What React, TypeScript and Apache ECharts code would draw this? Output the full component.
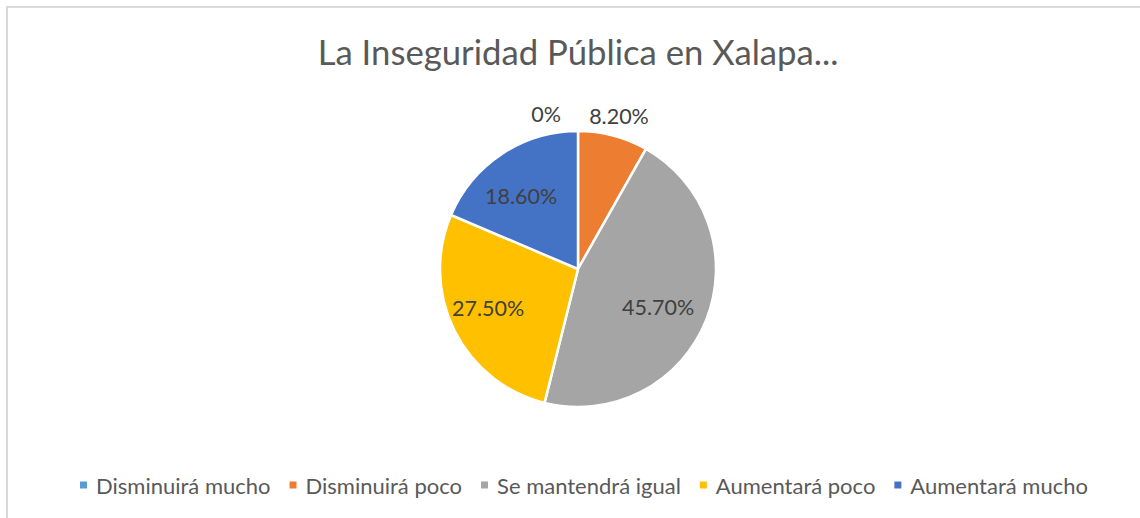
import React, { useEffect, useRef } from "react";
import * as echarts from "echarts";

const titleText = "La Inseguridad Pública en Xalapa...";
const categories = [
  "Disminuirá mucho",
  "Disminuirá poco",
  "Se mantendrá igual",
  "Aumentará poco",
  "Aumentará mucho",
];
const values = [0, 8.2, 45.7, 27.5, 18.6];
const colors = ["#5B9BD5", "#ED7D31", "#A5A5A5", "#FFC000", "#4472C4"];
const outsideLabelIdx = [0, 1];

const FONT = "Lato";

export default function App() {
  const ref = useRef<HTMLDivElement>(null);
  useEffect(() => {
    if (!ref.current) return;
    const chart = echarts.init(ref.current, undefined, { renderer: "svg" });
    const fmt = (p: any) => (p.value === 0 ? "0%" : p.value.toFixed(2) + "%");
    const mainData = categories.map((name, i) => ({
      name,
      value: values[i],
      itemStyle: { color: colors[i] },
      label: { show: outsideLabelIdx.includes(i) },
    }));
    const labelData = categories.map((name, i) => ({
      name,
      value: values[i],
      label: { show: !outsideLabelIdx.includes(i) },
    }));
    chart.setOption({
      animation: false,
      backgroundColor: "#ffffff",
      title: {
        text: titleText,
        left: 573,
        textAlign: "center",
        top: 29,
        textStyle: { fontFamily: FONT, fontSize: 34.7, fontWeight: "normal", color: "#595959" },
      },
      legend: {
        bottom: 17,
        left: 73,
        icon: "rect",
        itemWidth: 9,
        itemHeight: 9,
        itemGap: 17,
        data: categories,
        textStyle: { fontFamily: FONT, fontSize: 22, color: "#595959", padding: [0, 0, 0, 3] },
      },
      graphic: [
        {
          type: "rect",
          shape: { x: 7, y: 7, width: 1160, height: 540 },
          style: { fill: "none", stroke: "#d9d9d9", lineWidth: 2 },
          silent: true,
        },
      ],
      series: [
        {
          type: "pie",
          name: "main",
          center: [578, 269],
          radius: [0, 138],
          startAngle: 90,
          clockwise: true,
          avoidLabelOverlap: false,
          data: mainData,
          itemStyle: { borderColor: "#ffffff", borderWidth: 2.5 },
          label: {
            position: "outside",
            formatter: fmt,
            fontFamily: FONT,
            fontSize: 21.5,
            color: "#404040",
          },
          labelLine: { show: false, length: 19, length2: 0 },
          labelLayout: (params: any) => {
            if (params.dataIndex === 0) return { align: "center", dx: -27, dy: 2 };
            if (params.dataIndex === 1) return { align: "center", dx: -4, dy: -1 };
            return {};
          },
          emphasis: { disabled: true },
        },
        {
          type: "pie",
          name: "labels",
          center: [578, 269],
          radius: [0, 186],
          startAngle: 90,
          clockwise: true,
          silent: true,
          avoidLabelOverlap: false,
          data: labelData,
          itemStyle: { color: "rgba(0,0,0,0)", borderWidth: 0 },
          label: {
            position: "inside",
            formatter: fmt,
            fontFamily: FONT,
            fontSize: 21.5,
            color: "#404040",
          },
          labelLine: { show: false },
          labelLayout: (params: any) => {
            if (params.dataIndex === 2) return { dx: -9, dy: 2 };
            if (params.dataIndex === 3) return { dx: -4, dy: -4 };
            if (params.dataIndex === 4) return { dx: -4, dy: 7 };
            return {};
          },
          emphasis: { disabled: true },
        },
      ],
    });
    return () => chart.dispose();
  }, []);
  return (
    <div
      ref={ref}
      style={{ position: "absolute", left: 0, top: 0, width: 1140, height: 518 }}
    />
  );
}
